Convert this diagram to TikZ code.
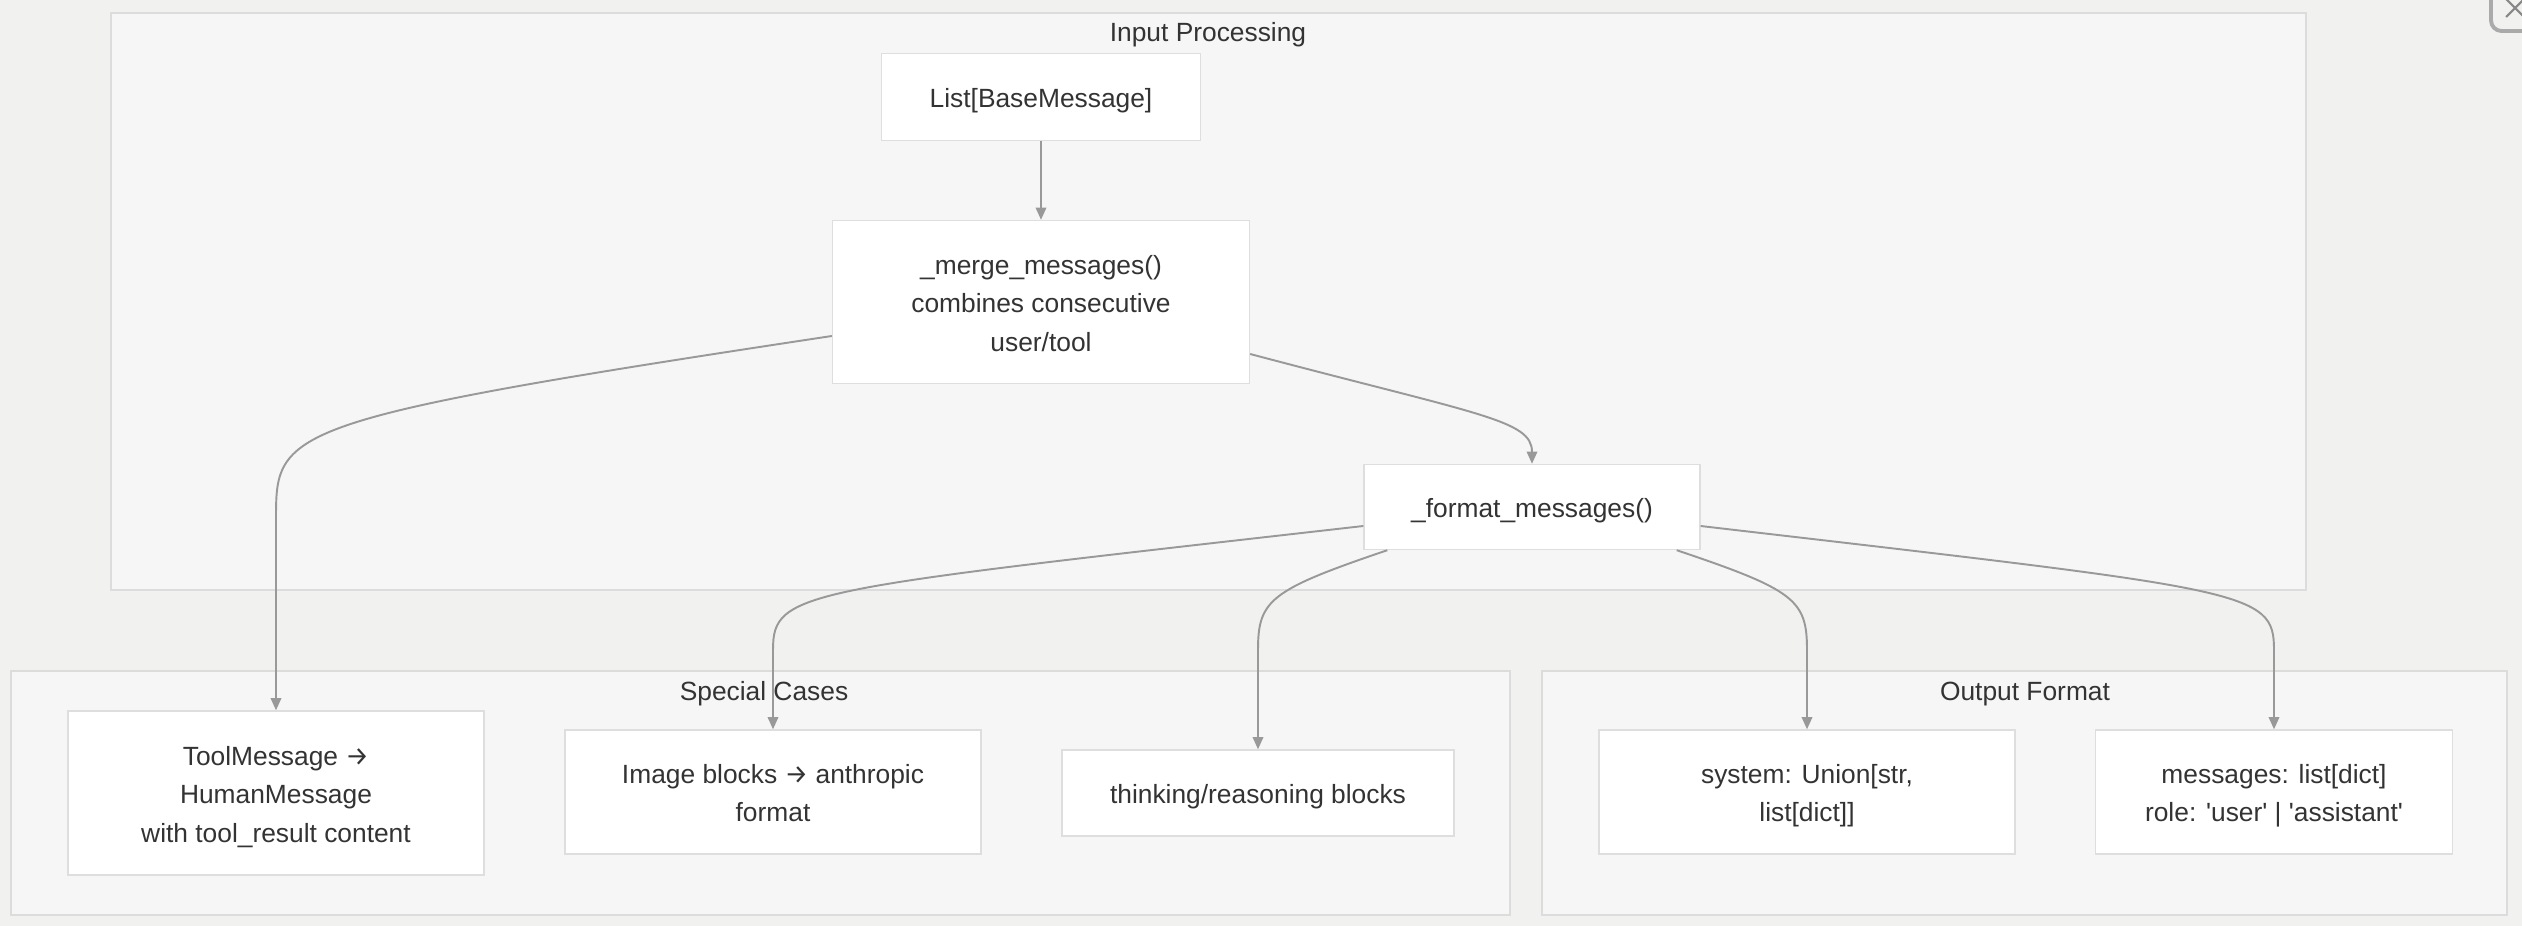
\documentclass[tikz,border=0pt]{standalone}
\usepackage{fontspec}
\setmainfont{Liberation Sans}[Ligatures=TeXOff]
\newfontfamily\arrowfont{Fira Sans}
\newcommand\rarr{{\arrowfont →}}
\newcommand\topstrut{\rule{0pt}{16pt}}
\usetikzlibrary{arrows.meta,calc}
\definecolor{bgc}{HTML}{F1F1F0}
\definecolor{clfill}{HTML}{F6F6F6}
\definecolor{clline}{HTML}{DCDCDC}
\definecolor{nline}{HTML}{DEDEDE}
\definecolor{txt}{HTML}{333333}
\definecolor{edgec}{HTML}{999999}
\definecolor{iconc}{HTML}{AAAAAA}
\begin{document}
\begin{tikzpicture}[x=0.02cm,y=-0.02cm,
  nodebox/.style={draw=nline,line width=0.8pt,fill=white,text=txt,align=center,
    font=\fontsize{15}{21.8}\selectfont,inner sep=0pt,
    execute at begin node={\topstrut},
    execute at end node={\rule[-3.8pt]{0pt}{3.8pt}}},
  cluster/.style={draw=clline,line width=0.8pt,fill=clfill},
  cltitle/.style={text=txt,font=\fontsize{15}{18}\selectfont,inner sep=0pt,anchor=base},
  conn/.style={draw=edgec,line width=1.1pt,-{Triangle[length=7pt,width=6pt]}}
]
\useasboundingbox (0,0) rectangle (2522,926);
\fill[bgc] (0,0) rectangle (2522,926);

% clusters
\draw[cluster] (111,13) rectangle (2306,590);
\node[cltitle] (tip) at (1208,42) {Input Processing};
\draw[cluster] (11,671) rectangle (1510,915);
\node[cltitle] (tsc) at (764,700) {Special Cases};
\draw[cluster] (1542,671) rectangle (2507,915);
\node[cltitle] (tof) at (2025,700) {Output Format};

% nodes
\node[nodebox,minimum width=6.38cm,minimum height=1.74cm] (list) at (1041,97) {List[BaseMessage]};
\node[nodebox,minimum width=8.34cm,minimum height=3.26cm] (merge) at (1041,302) {\topstrut\_merge\_messages()\\combines consecutive\\user/tool};
\node[nodebox,minimum width=6.72cm,minimum height=1.70cm] (format) at (1532,507) {\_format\_messages()};
\node[nodebox,minimum width=8.32cm,minimum height=3.28cm] (tool) at (276,793) {\topstrut ToolMessage \rarr\\HumanMessage\\with tool\_result content};
\node[nodebox,minimum width=8.32cm,minimum height=2.48cm] (image) at (773,792) {\topstrut Image blocks \rarr{} anthropic\\format};
\node[nodebox,minimum width=7.84cm,minimum height=1.72cm] (think) at (1258,793) {thinking/reasoning blocks};
\node[nodebox,minimum width=8.32cm,minimum height=2.48cm] (system) at (1807,792) {\topstrut system: Union[str,\\list[dict]]};
\node[nodebox,minimum width=7.14cm,minimum height=2.48cm] (msgs) at (2274,792) {\topstrut messages: list[dict]\\role: 'user' | 'assistant'};

% connectors
\draw[conn] (list) -- (merge);
\draw[conn] ($(merge.west)+(0,34)$) .. controls (276,420) and (276,430) .. (276,520) -- (tool.north);
\draw[conn] ($(merge.east)+(0,52)$) .. controls (1480,415) and (1532,420) .. (format.north);
\draw[conn] ($(format.west)+(0,19)$) .. controls (800,590) and (773,590) .. (773,650) -- (image.north);
\draw[conn] ($(format.south west)+(24,0)$) .. controls (1270,590) and (1258,600) .. (1258,650) -- (think.north);
\draw[conn] ($(format.south east)+(-24,0)$) .. controls (1795,590) and (1807,600) .. (1807,650) -- (system.north);
\draw[conn] ($(format.east)+(0,19)$) .. controls (2250,590) and (2274,590) .. (2274,650) -- (msgs.north);

% clipped icon at top right
\draw[iconc,line width=2.2pt,rounded corners=6pt] (2491,-20) rectangle (2560,31);
\draw[iconc!80!black,line width=1.2pt] (2506,17) -- (2524,-1);
\draw[iconc!80!black,line width=1.2pt] (2506,-1) -- (2524,17);
\end{tikzpicture}
\end{document}
